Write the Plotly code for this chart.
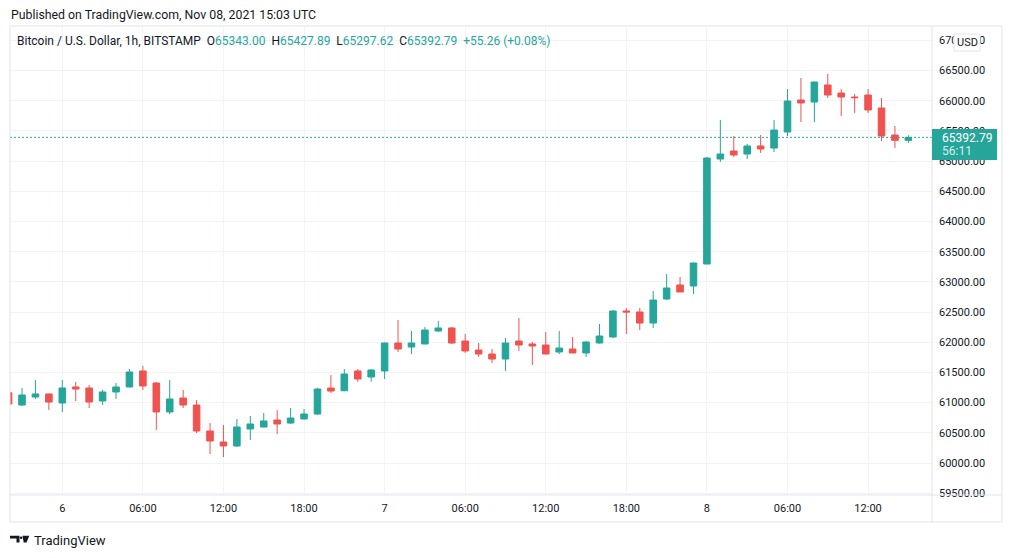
import pandas as pd
import plotly.graph_objects as go

# hourly BTC/USD candles, Bitstamp, first one starts 2021-11-05 20:00 UTC
start_time = "2021-11-05 20:00"

open_ = [61164, 60960, 61093, 61143, 60994, 61259, 61242, 61027, 61176, 61259,
         61524, 61325, 60845, 61076, 60960, 60530, 60348, 60282, 60563, 60596,
         60712, 60662, 60729, 60811, 61242, 61197, 61524, 61424, 61524, 61987,
         61921, 61971, 62186, 62236, 62020, 61871, 61805, 61722, 62020, 61971,
         61954, 61838, 61888, 61822, 61987, 62087, 62517, 62501, 62318, 62716,
         62948, 62931, 63295, 65034, 65167, 65117, 65250, 65216, 65481, 66011,
         65978, 66260, 66127, 66061, 66094, 65879, 65432, 65343.00]
high = [61190, 61242, 61374, 61150, 61374, 61341, 61292, 61209, 61325, 61557,
        61606, 61341, 61374, 61209, 61043, 60662, 60629, 60729, 60778, 60828,
        60878, 60911, 60894, 61242, 61457, 61557, 61557, 61557, 61995, 62368,
        62186, 62252, 62352, 62252, 62136, 61987, 61888, 62070, 62401, 62004,
        62169, 62186, 62087, 62020, 62302, 62534, 62567, 62567, 62848, 63130,
        63080, 63320, 65067, 65680, 65415, 65283, 65432, 65680, 66193, 66376,
        66315, 66442, 66193, 66111, 66193, 66044, 65581, 65427.89]
low = [60960, 60944, 61060, 60877, 60845, 61027, 60911, 60960, 61060, 61250,
       61209, 60546, 60811, 60911, 60497, 60149, 60099, 60265, 60381, 60590,
       60480, 60646, 60720, 60795, 61159, 61190, 61346, 61346, 61391, 61838,
       61805, 61965, 62169, 61971, 61822, 61755, 61656, 61524, 61855, 61623,
       61800, 61805, 61820, 61755, 61980, 62070, 62136, 62202, 62236, 62699,
       62830, 62799, 63290, 64985, 65067, 65034, 65134, 65150, 65415, 65647,
       65647, 66044, 65746, 65796, 65796, 65332, 65216, 65297.62]
close = [60977, 61126, 61143, 61010, 61242, 61225, 61010, 61176, 61259, 61507,
         61275, 60845, 61060, 60960, 60530, 60364, 60282, 60596, 60646, 60696,
         60646, 60745, 60811, 61225, 61192, 61474, 61391, 61540, 61987, 61888,
         61987, 62202, 62236, 61987, 61855, 61805, 61722, 61987, 61954, 61937,
         61805, 61904, 61822, 62004, 62103, 62517, 62501, 62318, 62699, 62898,
         62832, 63312, 65051, 65117, 65100, 65250, 65200, 65514, 65995, 65962,
         66309, 66094, 66061, 66050, 65846, 65415, 65343, 65392.79]

last_price = 65392.79
price_ticks = [59500, 60000, 60500, 61000, 61500, 62000, 62500, 63000,
               63500, 64000, 64500, 65000, 65500, 66000, 66500, 67000]
time_ticks = ["2021-11-06 00:00", "2021-11-06 06:00", "2021-11-06 12:00", "2021-11-06 18:00",
              "2021-11-07 00:00", "2021-11-07 06:00", "2021-11-07 12:00", "2021-11-07 18:00",
              "2021-11-08 00:00", "2021-11-08 06:00", "2021-11-08 12:00"]
time_labels = ["6", "06:00", "12:00", "18:00", "7", "06:00", "12:00", "18:00",
               "8", "06:00", "12:00"]

UP = "#26a69a"
DOWN = "#ef5350"
GRID = "#f0f3fa"
BORDER = "#e0e3eb"
TEXT = "#131722"
FONT = "Roboto"

# page has an 8px body margin, so the figure is a bit smaller than the window
OFF = 8
W, H = 1012 - 2 * OFF, 558 - 2 * OFF
# plot area in window pixels
PL, PR, PT, PB = 10, 932, 26, 495


def px(x):
    return (x - PL) / (PR - PL)


def py(y):
    return (PB - y) / (PB - PT)


times = pd.date_range(start=start_time, periods=len(open_), freq="h")

fig = go.Figure(go.Candlestick(
    x=times, open=open_, high=high, low=low, close=close,
    increasing=dict(line=dict(color=UP, width=1), fillcolor=UP),
    decreasing=dict(line=dict(color=DOWN, width=1), fillcolor=DOWN),
    whiskerwidth=0, hoverinfo="skip",
))

shapes = [
    # last price dotted line
    dict(type="line", xref="paper", yref="y", x0=0, x1=1, y0=last_price, y1=last_price,
         line=dict(color=UP, width=1, dash="2px,2px")),
    # frame
    dict(type="rect", xref="paper", yref="paper", x0=px(10), x1=px(1002), y0=py(26), y1=py(522),
         line=dict(color=BORDER, width=1)),
    dict(type="line", xref="paper", yref="paper", x0=1, x1=1, y0=py(26), y1=py(522),
         line=dict(color=BORDER, width=1)),
    dict(type="line", xref="paper", yref="paper", x0=px(10), x1=px(1002), y0=0, y1=0,
         line=dict(color=BORDER, width=1)),
    # last price label box on the price scale
    dict(type="rect", xref="paper", yref="paper", x0=px(932), x1=px(997), y0=py(129), y1=py(160),
         fillcolor=UP, line=dict(width=0), layer="above"),
    # USD box
    dict(type="rect", xref="paper", yref="paper", x0=px(954), x1=px(980), y0=py(34), y1=py(51),
         fillcolor="white", line=dict(color=BORDER, width=1), layer="above"),
]

# TradingView logo
logo_t = "M {} {} L {} {} L {} {} L {} {} L {} {} L {} {} Z".format(
    px(10), py(535.7), px(19.5), py(535.7), px(19.5), py(542.5),
    px(16.5), py(542.5), px(16.5), py(538.6), px(10), py(538.6))
logo_v = "M {} {} L {} {} L {} {} L {} {} Z".format(
    px(22.5), py(535.7), px(29.3), py(535.7), px(26.5), py(542.5), px(23.7), py(542.5))
shapes += [
    dict(type="path", xref="paper", yref="paper", path=logo_t, fillcolor=TEXT, line=dict(width=0)),
    dict(type="path", xref="paper", yref="paper", path=logo_v, fillcolor=TEXT, line=dict(width=0)),
    dict(type="circle", xref="paper", yref="paper", x0=px(19.9), x1=px(22.5), y0=py(536.5), y1=py(539.1),
         fillcolor=TEXT, line=dict(width=0)),
]


def val(v):
    return "<span style='color:%s'>%s</span>" % (UP, v)


legend = ("Bitcoin / U.S. Dollar, 1h, BITSTAMP&nbsp;&nbsp;"
          "O" + val("65343.00") + "&nbsp;&nbsp;H" + val("65427.89") +
          "&nbsp;&nbsp;L" + val("65297.62") + "&nbsp;&nbsp;C" + val("65392.79") +
          "&nbsp;&nbsp;" + val("+55.26 (+0.08%)"))

annotations = [
    dict(text="Published on TradingView.com, Nov 08, 2021 15:03 UTC", xref="paper", yref="paper",
         x=px(8.5), y=py(15), xanchor="left", yanchor="middle", showarrow=False,
         font=dict(family=FONT, size=12.3, color=TEXT)),
    dict(text=legend, xref="paper", yref="paper", x=px(15), y=py(41), xanchor="left",
         yanchor="middle", showarrow=False, font=dict(family=FONT, size=12, color=TEXT)),
    dict(text="65392.79", xref="paper", yref="paper", x=px(940), y=py(137.5), xanchor="left",
         yanchor="middle", showarrow=False, font=dict(family=FONT, size=12, color="white")),
    dict(text="56:11", xref="paper", yref="paper", x=px(940), y=py(151), xanchor="left",
         yanchor="middle", showarrow=False, font=dict(family=FONT, size=12, color="#d4efec")),
    dict(text="USD", xref="paper", yref="paper", x=px(967), y=py(42.5), xanchor="center",
         yanchor="middle", showarrow=False, font=dict(family=FONT, size=11, color=TEXT)),
    dict(text="TradingView", xref="paper", yref="paper", x=px(32), y=py(540.5), xanchor="left",
         yanchor="middle", showarrow=False, font=dict(family=FONT, size=13, color=TEXT)),
]

fig.update_layout(
    width=W, height=H,
    margin=dict(l=PL - OFF, r=W - (PR - OFF), t=PT - OFF, b=H - (PB - OFF)),
    paper_bgcolor="white", plot_bgcolor="white",
    showlegend=False,
    font=dict(family=FONT, size=11, color=TEXT),
    xaxis=dict(
        type="date", range=["2021-11-05 20:06:22", "2021-11-08 16:45:36"],
        tickvals=time_ticks, ticktext=time_labels, ticks="", ticklabelstandoff=5,
        showgrid=True, gridcolor=GRID, gridwidth=1, zeroline=False, showline=False,
        rangeslider=dict(visible=False), fixedrange=True,
    ),
    yaxis=dict(
        side="right", range=[59470, 67237], tickvals=price_ticks,
        ticktext=["%.2f" % p for p in price_ticks], ticks="", ticklabelstandoff=6,
        showgrid=True, gridcolor=GRID, gridwidth=1, zeroline=False, showline=False,
        fixedrange=True,
    ),
    shapes=shapes,
    annotations=annotations,
)

fig.write_html("out.html")
